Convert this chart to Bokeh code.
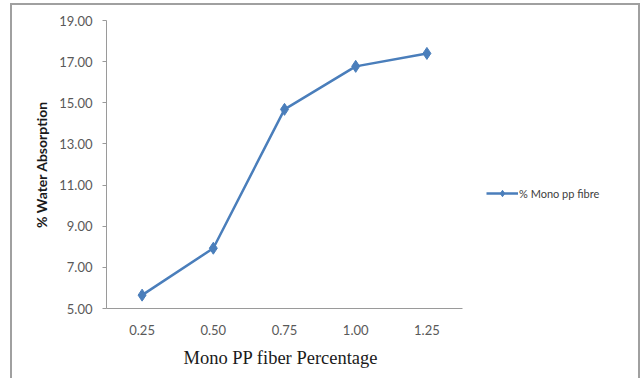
from bokeh.plotting import figure
from bokeh.models import (ColumnDataSource, Range1d, FixedTicker, Title,
                          NumeralTickFormatter, Legend, LegendItem, InlineStyleSheet)
from bokeh.embed import file_html
from bokeh.resources import INLINE

fibre_pct = ["0.25", "0.50", "0.75", "1.00", "1.25"]
water_absorption = [5.65, 7.93, 14.68, 16.77, 17.40]
y_ticks = [5, 7, 9, 11, 13, 15, 17, 19]
series_name = "% Mono pp fibre"
x_title = "Mono PP  fiber Percentage"
y_title = "% Water Absorption"

# category positions (one unit per category, Excel-style centred slots)
cat_pos = list(range(1, len(fibre_pct) + 1))
src = ColumnDataSource(dict(x=cat_pos, y=water_absorption))

W, H = 643, 378
left, right, top, bottom = 106, 4, 20, 70
axis_px = 356                      # width of the drawn category axis
unit_px = axis_px / len(fibre_pct)
frame_w = W - left - right
x_start = 0.5
x_end = x_start + frame_w / unit_px

p = figure(width=W, height=H, output_backend="svg", toolbar_location=None,
           x_range=Range1d(x_start, x_end),
           y_range=Range1d(5, 19),
           min_border_left=left, min_border_right=right,
           min_border_top=top, min_border_bottom=bottom)
p.outline_line_color = None
p.xgrid.grid_line_color = None
p.ygrid.grid_line_color = None
p.background_fill_color = "white"
p.border_fill_color = "white"

blue = "#4a7ebb"
l = p.line("x", "y", source=src, line_color=blue, line_width=2.5)
s = p.scatter("x", "y", source=src, marker="diamond", size=12,
              fill_color=blue, line_color=blue)

axis_gray = "#9a9a9a"
label_gray = "#595959"

yax = p.yaxis[0]
yax.ticker = FixedTicker(ticks=y_ticks)
yax.formatter = NumeralTickFormatter(format="0.00")
yax.axis_line_color = axis_gray
yax.major_tick_line_color = axis_gray
yax.major_tick_out = 4
yax.major_tick_in = 0
yax.minor_tick_line_color = None
yax.major_label_text_font = "Lato"
yax.major_label_text_font_size = "13px"
yax.major_label_text_color = label_gray
yax.major_label_standoff = 10
yax.axis_label = y_title
yax.axis_label_text_font = "Lato"
yax.axis_label_text_font_style = "bold"
yax.axis_label_text_font_size = "14px"
yax.axis_label_text_color = "#1a1a1a"
yax.axis_label_standoff = 6

xax = p.xaxis[0]
xax.bounds = (x_start, x_start + len(fibre_pct))
xax.ticker = FixedTicker(ticks=cat_pos)
xax.major_label_overrides = {c: lab for c, lab in zip(cat_pos, fibre_pct)}
xax.axis_line_color = axis_gray
xax.major_tick_line_color = None
xax.minor_tick_line_color = None
xax.major_label_text_font = "Lato"
xax.major_label_text_font_size = "13px"
xax.major_label_text_color = label_gray
xax.major_label_standoff = 10

p.add_layout(Title(text=x_title, align="left", offset=77, standoff=16,
                   text_font="Liberation Serif, Times New Roman, serif",
                   text_font_style="normal", text_font_size="18.5px",
                   text_color="#1a1a1a"), "below")

legend = Legend(items=[LegendItem(label=series_name, renderers=[l, s])],
                location=(380, 107), padding=0, margin=0, spacing=0,
                glyph_width=32, glyph_height=16, label_height=16,
                label_standoff=1, border_line_color=None,
                background_fill_alpha=0,
                label_text_font="Lato", label_text_font_size="11px",
                label_text_color="#404040")
p.add_layout(legend, "center")

p.stylesheets = [InlineStyleSheet(css="""
:host { position: relative; }
:host::after {
  content: '';
  position: absolute;
  left: 10px; top: 3px; width: 630px; height: 375px;
  box-sizing: border-box;
  border: 2px solid #a0a0a0;
  border-bottom: none;
  pointer-events: none;
}
""")]

open("out.html", "w").write(file_html(p, INLINE))
